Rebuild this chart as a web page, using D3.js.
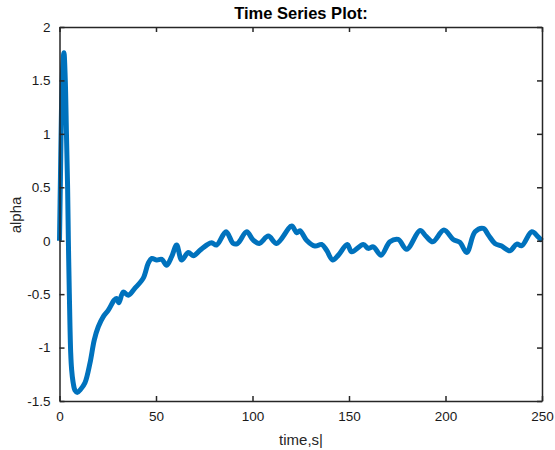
<!DOCTYPE html>
<html>
<head>
<meta charset="utf-8">
<script src="https://cdn.jsdelivr.net/npm/d3@7"></script>
<style>
	body { margin: 0; background: #fff; }
	svg { display: block; }
	text { font-family: "Liberation Sans", Arial, sans-serif; }
</style>
</head>
<body>
<div id="chart"></div>
<script>
const timeVals = [0, 0.5, 1, 1.6, 2.3, 3, 3.6, 4.2, 4.6, 5.1, 5.8, 6.3, 7, 8, 9.2, 11, 13.2, 15.8, 18, 20.1,
	22.7, 25.3, 28.4, 29.6, 30.8, 33, 35.6, 39, 43.4, 46, 47.8, 50.4, 53, 55.5, 58.1, 60.7, 63.3, 66.7, 69.3,
	72.8, 76.3, 78.9, 81.4, 86.3, 90, 92.3, 97, 100.4, 103.5, 108.2, 112.5, 120.3, 122.9, 124.6, 128, 132.4,
	135.8, 138.4, 141.5, 144.5, 149.1, 151.4, 157.4, 160, 162.6, 166.6, 171.2, 175.5, 179.9, 186.8, 190,
	193.4, 199.2, 204, 207.5, 211, 215.3, 219.6, 222.2, 225.6, 229.1, 233.4, 236.9, 239.5, 244.7, 248, 250]
const alphaVals = [0, 0.6, 1.2, 1.6, 1.76, 1.5, 1.0, 0.5, 0, -0.5, -1.05, -1.21, -1.32, -1.4, -1.42, -1.39,
	-1.33, -1.145, -0.93, -0.805, -0.71, -0.65, -0.555, -0.54, -0.58, -0.48, -0.51, -0.446, -0.35, -0.21,
	-0.166, -0.18, -0.175, -0.23, -0.15, -0.04, -0.18, -0.11, -0.14, -0.09, -0.04, -0.02, -0.04, 0.083,
	-0.025, -0.025, 0.083, 0.005, -0.025, 0.043, -0.025, 0.137, 0.074, 0.093, 0.005, -0.05, -0.035, -0.09,
	-0.18, -0.135, -0.035, -0.104, -0.035, -0.072, -0.057, -0.135, -0.01, 0.012, -0.08, 0.095, 0.04, -0.01,
	0.1, 0.012, -0.016, -0.11, 0.083, 0.115, 0.053, -0.025, -0.05, -0.094, -0.032, -0.047, 0.083, 0.036, 0]

const xTicks = [0, 50, 100, 150, 200, 250]
const yTicks = [-1.5, -1, -0.5, 0, 0.5, 1, 1.5, 2]

const width = 555
const height = 450
const plot_left = 59.5
const plot_right = 542
const plot_top = 27
const plot_bottom = 401
const axis_color = "#262626"
const line_color = "#0072BD"

const svg = d3.select("#chart")
	.append("svg")
	.attr("width", width)
	.attr("height", height)

const x = d3.scaleLinear().domain([0, 250]).range([plot_left, plot_right])
const y = d3.scaleLinear().domain([-1.5, 2]).range([plot_bottom, plot_top])

const plot = svg.append("g")

// the series
const data = timeVals.map((t, i) => [t, alphaVals[i]])
const line = d3.line()
	.x(d => x(d[0]))
	.y(d => y(d[1]))
	.curve(d3.curveCatmullRom.alpha(0.5))

plot.append("path")
	.datum(data)
	.attr("d", line)
	.attr("fill", "none")
	.attr("stroke", line_color)
	.attr("stroke-width", 5)
	.attr("stroke-linejoin", "round")

// axes: ticks inside, on all four sides
const fmt = d => String(d)
const tickLen = 5

const bottomAxis = svg.append("g")
	.attr("transform", "translate(0," + plot_bottom + ")")
	.call(d3.axisBottom(x).tickValues(xTicks).tickSizeInner(-tickLen).tickSizeOuter(0).tickPadding(10).tickFormat(fmt))
const topAxis = svg.append("g")
	.attr("transform", "translate(0," + plot_top + ")")
	.call(d3.axisTop(x).tickValues(xTicks).tickSizeInner(-tickLen).tickSizeOuter(0).tickFormat(""))
const leftAxis = svg.append("g")
	.attr("transform", "translate(" + plot_left + ",0)")
	.call(d3.axisLeft(y).tickValues(yTicks).tickSizeInner(-tickLen).tickSizeOuter(0).tickPadding(9).tickFormat(fmt))
const rightAxis = svg.append("g")
	.attr("transform", "translate(" + plot_right + ",0)")
	.call(d3.axisRight(y).tickValues(yTicks).tickSizeInner(-tickLen).tickSizeOuter(0).tickFormat(""))

for (const g of [bottomAxis, topAxis, leftAxis, rightAxis]) {
	g.select(".domain").attr("stroke", axis_color).attr("stroke-width", 1.5)
	g.selectAll(".tick line").attr("stroke", axis_color).attr("stroke-width", 1.5)
	g.selectAll(".tick text")
		.attr("fill", "#1a1a1a")
		.attr("font-size", 13.5)
		.attr("font-family", "Liberation Sans, Arial, sans-serif")
}

// labels
svg.append("text")
	.attr("x", 301)
	.attr("y", 19)
	.attr("text-anchor", "middle")
	.attr("font-size", 16.5)
	.attr("font-weight", "bold")
	.attr("fill", "#000")
	.text("Time Series Plot:")

svg.append("text")
	.attr("x", 301)
	.attr("y", 445)
	.attr("text-anchor", "middle")
	.attr("font-size", 15)
	.attr("fill", "#262626")
	.text("time,s|")

svg.append("text")
	.attr("transform", "translate(21,215) rotate(-90)")
	.attr("text-anchor", "middle")
	.attr("font-size", 15)
	.attr("fill", "#262626")
	.text("alpha")
</script>
</body>
</html>
